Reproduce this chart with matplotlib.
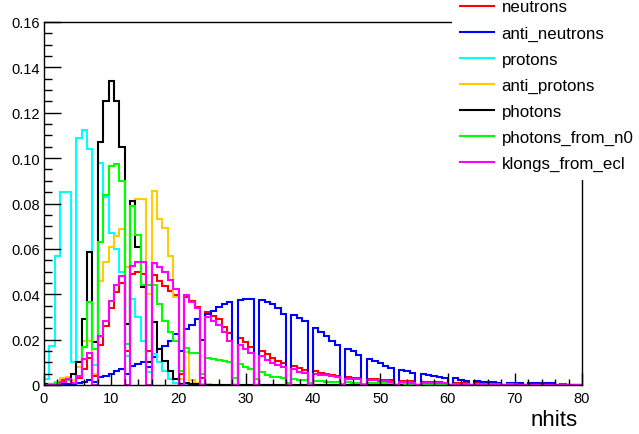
import numpy as np
import matplotlib.pyplot as plt
from matplotlib.lines import Line2D
from matplotlib.ticker import MultipleLocator

plt.rcParams['font.family'] = ['Liberation Sans', 'DejaVu Sans']

# ============================
# Datos: histogramas normalizados de nhits
# 100 bins entre 0 y 80, valores en unidades de 1e-3
# ============================
x_min, x_max, n_bins = 0, 80, 100

neutrons = [
    0, 0, 1, 2, 2, 1, 3, 7, 12, 4,
    17.5, 26, 34, 41, 45, 15, 49, 50, 49, 15,
    48.5, 46, 43.8, 41.6, 39.5, 5, 39, 37, 34.4, 3,
    32, 30.5, 29, 25.4, 23, 0, 20.6, 18.8, 16.6, 0,
    15.1, 13.7, 12, 10.7, 9.5, 0, 8.2, 7.3, 6.8, 0,
    6.0, 5.5, 5.0, 4.4, 4.0, 0, 3.4, 3.3, 3.0, 0,
    2.6, 2.6, 2.3, 2.2, 2.0, 0, 1.8, 1.7, 1.6, 0,
    1.5, 1.4, 1.3, 1.2, 1.1, 0, 1.0, 0.9, 0.9, 0,
    0.8, 0.8, 0.7, 0.7, 0.6, 0, 0.6, 0.5, 0.5, 0,
    0.4, 0.4, 0.4, 0.3, 0.3, 0, 0.3, 0.2, 0.2, 0,
]
anti_neutrons = [
    0, 0, 0, 0.3, 0.5, 0.5, 1, 1.3, 2, 1.5,
    3.4, 4.1, 5, 6.3, 7, 5, 8.5, 9.3, 10, 8,
    12.2, 15.9, 17.3, 19.5, 22.5, 15, 24.7, 26.5, 29, 20,
    31.5, 32.5, 34.2, 35.7, 36.7, 0, 37.6, 38, 38, 0,
    37.6, 36.7, 35.7, 34, 31.3, 0, 30.8, 29.4, 28.3, 0,
    25, 23.2, 21.5, 19.5, 17.6, 0, 15.9, 15.1, 13.2, 0,
    11.5, 10.7, 9.7, 8.2, 7.3, 0, 6.8, 6.3, 5.5, 0,
    4.8, 4.4, 3.9, 3.5, 2.9, 0, 2.9, 2.2, 1.9, 0,
    1.9, 1.5, 1.5, 1.3, 1.1, 0, 1.1, 0.9, 0.8, 0,
    0.7, 0.7, 0.7, 0.7, 0.7, 0, 0, 0, 0, 0,
]
protons = [
    2.6, 17, 57, 85, 85, 10, 109, 112.5, 104, 9,
    98, 83, 67, 60, 50, 13, 38, 30, 19.5, 5.7,
    13.7, 10, 6.3, 2.6, 1.0, 0.3, 0.5, 0.3, 0.2, 0,
    0, 0, 0, 0, 0, 0, 0, 0, 0, 0,
    0, 0, 0, 0, 0, 0, 0, 0, 0, 0,
    0, 0, 0, 0, 0, 0, 0, 0, 0, 0,
    0, 0, 0, 0, 0, 0, 0, 0, 0, 0,
    0, 0, 0, 0, 0, 0, 0, 0, 0, 0,
    0, 0, 0, 0, 0, 0, 0, 0, 0, 0,
    0, 0, 0, 0, 0, 0, 0, 0, 0, 0,
]
anti_protons = [
    0, 0.5, 1.5, 3, 3.5, 2, 8, 19.5, 19.5, 5,
    46, 54, 60.7, 65.8, 68.8, 52, 79, 82, 82, 40,
    85.6, 73, 69, 57, 38.6, 2.6, 14.4, 2, 1, 0.5,
    0.3, 0.2, 0, 0, 0, 0, 0, 0, 0, 0,
    0, 0, 0, 0, 0, 0, 0, 0, 0, 0,
    0, 0, 0, 0, 0, 0, 0, 0, 0, 0,
    0, 0, 0, 0, 0, 0, 0, 0, 0, 0,
    0, 0, 0, 0, 0, 0, 0, 0, 0, 0,
    0, 0, 0, 0, 0, 0, 0, 0, 0, 0,
    0, 0, 0, 0, 0, 0, 0, 0, 0, 0,
]
photons = [
    0.5, 0.5, 1, 1, 2, 5, 10, 29, 58.5, 19,
    107, 125.3, 134, 125.3, 105, 27, 81, 61, 43, 10,
    27.6, 16, 10.7, 6.3, 2.6, 0.5, 1, 0.5, 0.3, 0,
    0, 0, 0, 0, 0, 0, 0, 0, 0, 0,
    0, 0, 0, 0, 0, 0, 0, 0, 0, 0,
    0, 0, 0, 0, 0, 0, 0, 0, 0, 0,
    0, 0, 0, 0, 0, 0, 0, 0, 0, 0,
    0, 0, 0, 0, 0, 0, 0, 0, 0, 0,
    0, 0, 0, 0, 0, 0, 0, 0, 0, 0,
    0, 0, 0, 0, 0, 0, 0, 0, 0, 0,
]
photons_from_n0 = [
    0, 0.3, 1, 1.5, 2, 1, 4, 16.6, 36.4, 16,
    63, 83.7, 96.7, 97.4, 90, 18, 79, 66, 44, 44,
    44, 35.7, 28.3, 23.2, 19.5, 6, 16.2, 14.1, 14, 5,
    11.8, 11.5, 11, 10.5, 10, 3, 9.2, 7.8, 7, 2.5,
    5.6, 4.4, 3.7, 3.4, 3.2, 1, 2.6, 2.4, 2.2, 0.8,
    1.8, 1.6, 1.5, 1.4, 1.3, 0.4, 1.2, 1.1, 1.0, 0.3,
    0.9, 0.9, 0.8, 0.8, 0.7, 0.2, 0.7, 0.6, 0.6, 0.2,
    0.5, 0.5, 0.5, 0.4, 0.4, 0.1, 0.4, 0.3, 0.3, 0.1,
    0.3, 0.3, 0.2, 0.2, 0.2, 0, 0.2, 0.2, 0.1, 0,
    0.1, 0.1, 0.1, 0.1, 0.1, 0, 0, 0, 0, 0,
]
klongs_from_ecl = [
    0, 0, 0, 1.3, 2.6, 1, 4.1, 11.5, 14.2, 0,
    21.7, 28, 37, 44, 48, 0, 52.4, 54, 54, 0,
    53.8, 51.9, 49.7, 46.4, 42.3, 0, 39.7, 36.4, 33.8, 0,
    29.8, 28.3, 26.5, 23.5, 19.5, 0, 17.8, 15.9, 14.3, 0,
    12.6, 10.9, 9.8, 8.8, 7.9, 0, 6.9, 5.9, 5.3, 0,
    4.8, 4.5, 4.4, 3.8, 3.4, 0, 2.8, 2.6, 2.5, 0,
    2.2, 2.0, 1.8, 1.7, 1.5, 0, 1.3, 1.2, 1.1, 0,
    1.0, 0.9, 0.8, 0.8, 0.7, 0, 0.6, 0.6, 0.5, 0,
    0.5, 0.4, 0.4, 0.4, 0.3, 0, 0.3, 0.3, 0.2, 0,
    0.2, 0.2, 0.2, 0.1, 0.1, 0, 0.1, 0.1, 0.1, 0,
]

labels = ["neutrons", "anti_neutrons", "protons", "anti_protons",
          "photons", "photons_from_n0", "klongs_from_ecl"]
colors = ["#ff0000", "#0000ff", "#00ffff", "#ffcc00",
          "#000000", "#00ff00", "#ff00ff"]
data = [neutrons, anti_neutrons, protons, anti_protons,
        photons, photons_from_n0, klongs_from_ecl]

# ============================
# Figura
# ============================
W, H = 639, 435
fig = plt.figure(figsize=(W / 100, H / 100), dpi=100)
ax = fig.add_axes([44 / W, 49 / H, 538 / W, 363 / H])

edges = np.linspace(x_min, x_max, n_bins + 1)
for vals, c in zip(data, colors):
    ax.stairs(np.array(vals) * 1e-3, edges, color=c, lw=1.5, baseline=0)

ax.set_xlim(0, 80)
ax.set_ylim(0, 0.16)
ax.xaxis.set_major_locator(MultipleLocator(10))
ax.xaxis.set_minor_locator(MultipleLocator(2))
ax.yaxis.set_major_locator(MultipleLocator(0.02))
ax.yaxis.set_minor_locator(MultipleLocator(0.005))
ax.set_yticklabels(["0" if v == 0 else f"{v:.2f}" for v in ax.get_yticks()])

ax.tick_params(axis="both", which="both", direction="in", top=False, right=False,
               labelsize=10.5, width=1)
ax.tick_params(axis="y", which="major", length=12, pad=3)
ax.tick_params(axis="y", which="minor", length=6)
ax.tick_params(axis="x", which="major", length=8.5, pad=4)
ax.tick_params(axis="x", which="minor", length=4.3)
for s in ax.spines.values():
    s.set_linewidth(1)

fig.text(578 / W, 1 - 421 / H, "nhits", ha="right", va="center", fontsize=16)

# Leyenda (caja blanca sin borde, arriba a la derecha)
handles = [Line2D([], [], color=c, lw=1.5) for c in colors]
leg = fig.legend(handles, labels, loc="upper left",
                 bbox_to_anchor=(452 / W, 1 + 8 / H), fontsize=12.2,
                 frameon=True, fancybox=False, edgecolor="none",
                 facecolor="white", framealpha=1, borderpad=0.5,
                 handlelength=2.0, handletextpad=0.42, labelspacing=0.65,
                 borderaxespad=0)

fig.savefig("out.png", dpi=100)
